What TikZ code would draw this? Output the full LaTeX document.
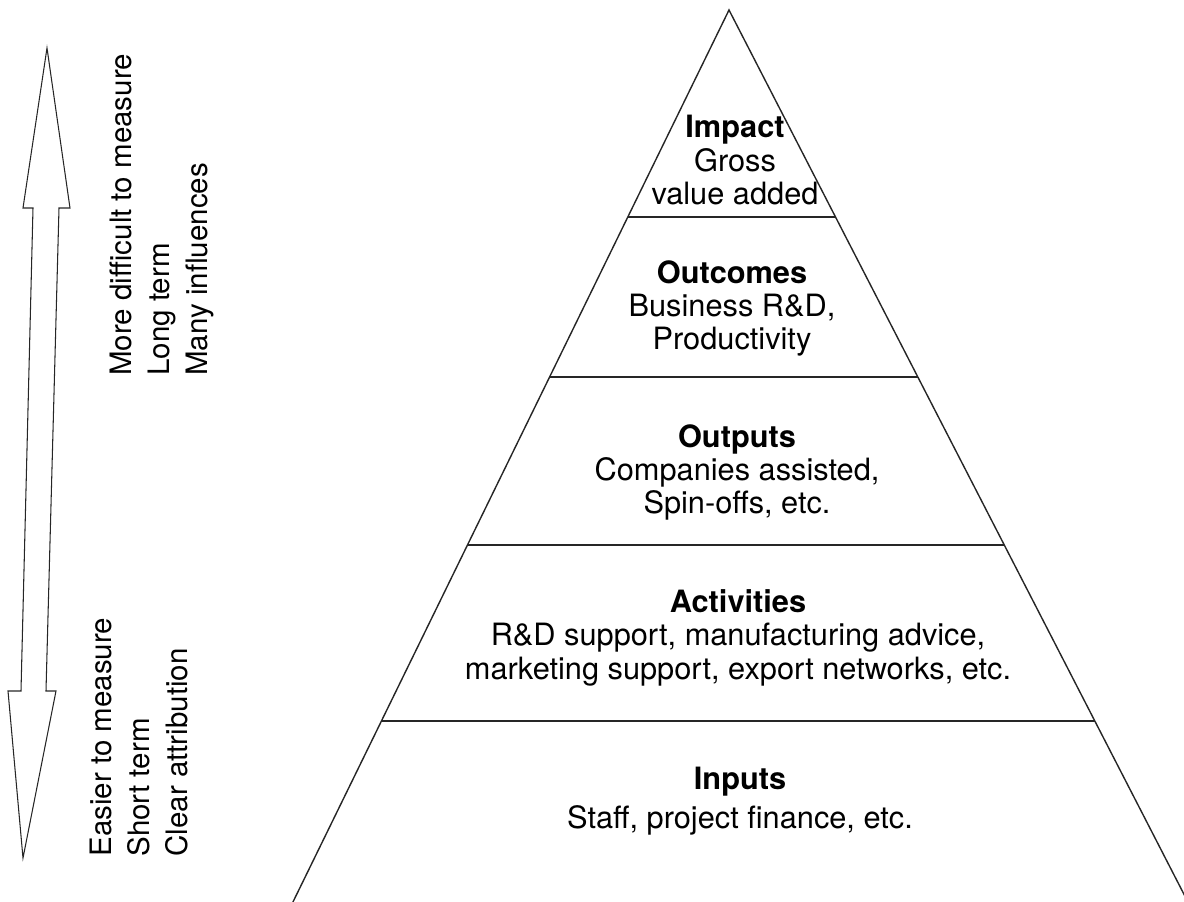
\documentclass[tikz,border=0pt]{standalone}
\usepackage{fontspec}
\setmainfont{TeX Gyre Heros}
\usetikzlibrary{calc}
\begin{document}
\begin{tikzpicture}[x=0.02cm, y=-0.02cm]
\tikzstyle{line} = [line width = 0.8pt, draw = black!85]
\tikzstyle{tier} = [align = center, inner sep = 0pt, font = \fontsize{17.5}{19}\selectfont]
\tikzstyle{side} = [align = left, inner sep = 0pt, rotate = 90, anchor = north west, font = \fontsize{16.8}{21.5}\selectfont]
\useasboundingbox (0,0) rectangle (1184,902);
\clip (0,0) rectangle (1184,902);
% pyramid
\coordinate (apex) at (729,10);
\coordinate (bl) at (293,902);
\coordinate (br) at (1188,902);
\coordinate (l1) at ($(apex)!0.232!(bl)$);
\coordinate (r1) at ($(apex)!0.232!(br)$);
\coordinate (l2) at ($(apex)!0.4114!(bl)$);
\coordinate (r2) at ($(apex)!0.4114!(br)$);
\coordinate (l3) at ($(apex)!0.5998!(bl)$);
\coordinate (r3) at ($(apex)!0.5998!(br)$);
\coordinate (l4) at ($(apex)!0.797!(bl)$);
\coordinate (r4) at ($(apex)!0.797!(br)$);
\draw[line] ($(bl)+(-2,4)$) -- (apex) -- ($(br)+(2,4)$);
\draw[line] (l1) -- (r1);
\draw[line] (l2) -- (r2);
\draw[line] (l3) -- (r3);
\draw[line] (l4) -- (r4);
% levels
\node[tier, anchor = north](impact) at (735,115){\textbf{Impact}\\Gross\\value added};
\node[tier, anchor = north](outcomes) at (732,260){\textbf{Outcomes}\\Business R\&D,\\Productivity};
\node[tier, anchor = north](outputs) at (737,424){\textbf{Outputs}\\Companies assisted,\\Spin-offs, etc.};
\node[tier, anchor = north](activities) at (738,589){\textbf{Activities}\\R\&D support, manufacturing advice,\\marketing support, export networks, etc.};
\node[tier, anchor = north](inputs) at (740,767){\textbf{Inputs}\\[3pt]Staff, project finance, etc.};
% double arrow
\draw[line, line width = 0.6pt] (47,48) -- (70,208) -- (59,208) -- (46,691) -- (56,691) -- (23,858)
  -- (8,691) -- (21,691) -- (33,208) -- (23,208) -- cycle;
\node[side](hard) at (110,376){More difficult to measure\\Long term\\Many influences};
\node[side](easy) at (90,857){Easier to measure\\Short term\\Clear attribution};
\end{tikzpicture}
\end{document}
